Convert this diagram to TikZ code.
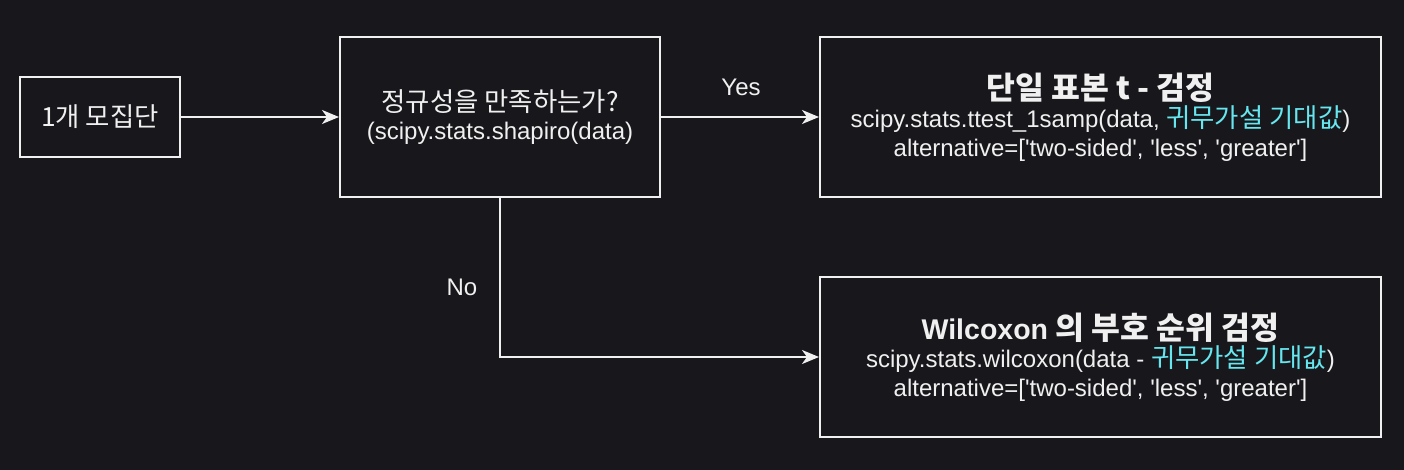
\documentclass[tikz,border=0pt]{standalone}
\usepackage{fontspec}
\setmainfont{Liberation Sans}
\newfontfamily\kr{Noto Sans CJK KR}[Scale=1.1]
\usetikzlibrary{arrows.meta}
\definecolor{bgc}{HTML}{18171C}
\definecolor{fgc}{HTML}{F0F0F0}
\definecolor{cyc}{HTML}{66E6EE}
\newcommand{\hk}[1]{{\kr #1}}
\newcommand{\sq}{\textquotesingle}
\newcommand{\ttl}{\fontsize{28.5}{34}\selectfont\bfseries}
\tikzset{txt/.style={text=fgc,font=\fontsize{24}{28.5}\selectfont},b/.style={txt,draw=fgc,line width=2pt,align=center,inner sep=0pt},
arr/.style={draw=fgc,line width=2pt,-{Stealth[length=17pt,width=14pt,inset=5pt]}}}

\begin{document}
\begin{tikzpicture}[x=1pt,y=-1pt]
\fill[bgc](0,0)rectangle(1404,470);
\node[b,minimum width=160,minimum height=80](pop)at(100,117){\hk{1개 모집단}};
\node[b,minimum width=320,minimum height=160](norm)at(500,117){\hk{정규성을 만족하는가?}\\(scipy.stats.shapiro(data)};
\node[b,minimum width=561,minimum height=160](tt)at(1100.5,117){{\ttl\hk{단일 표본 t - 검정}}\\scipy.stats.ttest\_1samp(data, \textcolor{cyc}{\hk{귀무가설 기대값}})\\alternative=[\sq two-sided\sq, \sq less\sq, \sq greater\sq]};
\node[b,minimum width=561,minimum height=160](wil)at(1100.5,357){{\ttl Wilcoxon \hk{의 부호 순위 검정}}\\scipy.stats.wilcoxon(data - \textcolor{cyc}{\hk{귀무가설 기대값}})\\alternative=[\sq two-sided\sq, \sq less\sq, \sq greater\sq]};
\node[txt](yes)at(741,87){Yes};\node[txt](no)at(462,287){No};
\draw[arr](pop)--(norm);\draw[arr](norm)--(tt);
\draw[arr](norm.south)|-(wil.west);
\end{tikzpicture}
\end{document}
